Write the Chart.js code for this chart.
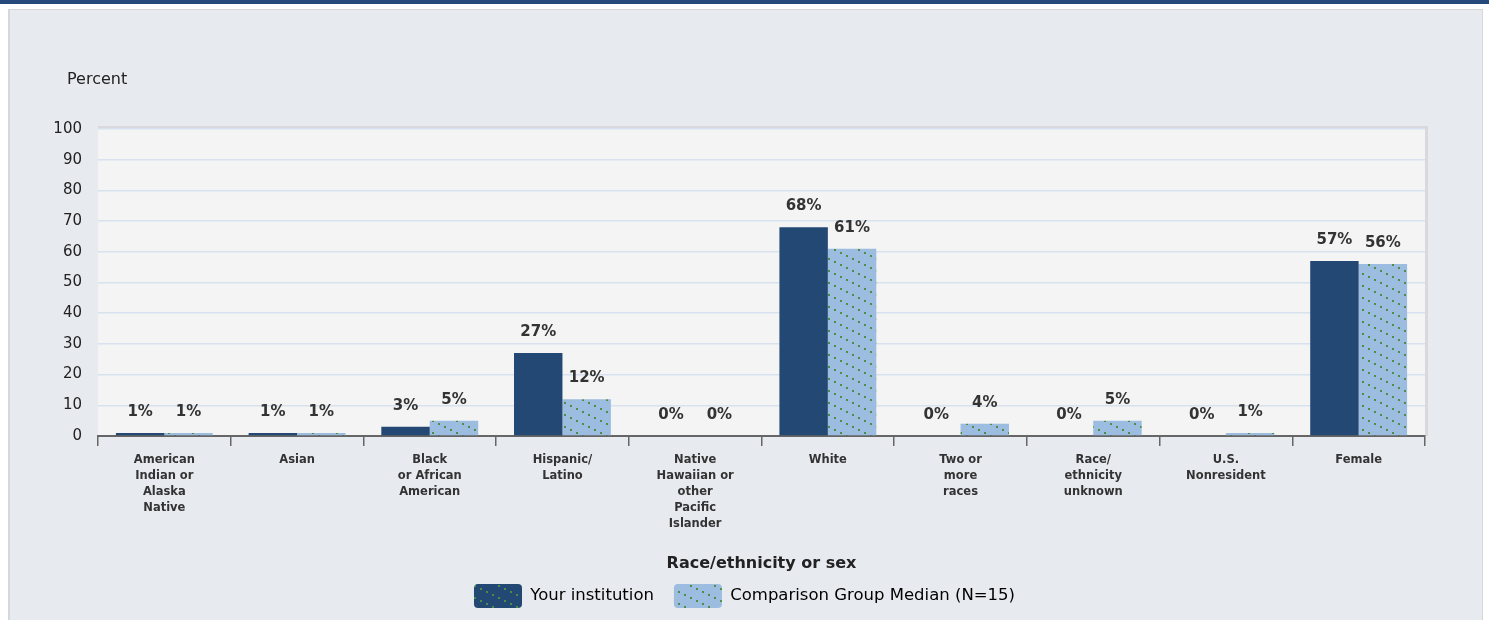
<!DOCTYPE html>
<html>
<head>
<meta charset="utf-8">
<script src="https://cdn.jsdelivr.net/npm/chart.js@4.4.1/dist/chart.umd.min.js"></script>
<style>
  html, body { margin: 0; padding: 0; background: #fff; }
  #wrap { width: 1489px; height: 620px; position: relative; }
</style>
</head>
<body>
<div id="wrap"><canvas id="chart" width="1489" height="620"></canvas></div>
<script>
const categories = [
  ['American', 'Indian or', 'Alaska', 'Native'],
  ['Asian'],
  ['Black', 'or African', 'American'],
  ['Hispanic/', 'Latino'],
  ['Native', 'Hawaiian or', 'other', 'Pacific', 'Islander'],
  ['White'],
  ['Two or', 'more', 'races'],
  ['Race/', 'ethnicity', 'unknown'],
  ['U.S.', 'Nonresident'],
  ['Female']
]
const yourInstitution = [1, 1, 3, 27, 0, 68, 0, 0, 0, 57]
const comparisonMedian = [1, 1, 5, 12, 0, 61, 4, 5, 1, 56]
const seriesNames = ['Your institution', 'Comparison Group Median (N=15)']
const yTicks = [0, 10, 20, 30, 40, 50, 60, 70, 80, 90, 100]

const DARK = '#224873'
const LIGHT = '#9dbde0'
const FONT = '"DejaVu Sans", Verdana, sans-serif'

// diagonal dotted green pattern, like the original
function makePattern(base) {
    const c = document.createElement('canvas')
    c.width = 24
    c.height = 12
    const g = c.getContext('2d')
    g.fillStyle = base
    g.fillRect(0, 0, 24, 12)
    g.fillStyle = '#4a8f48'
    for (let x = 0; x < 24; x += 6) {
        g.fillRect(x, x / 2, 2, 2)
    }
    return g.createPattern(c, 'repeat')
}
const ctx = document.getElementById('chart').getContext('2d')
const lightPattern = makePattern(LIGHT)
const darkPattern = makePattern(DARK)

// page background, panel and plot-area box
const backdrop = {
    id: 'backdrop',
    afterLayout(chart) {
        // centre the legend on the whole page, not on the padded area
        chart.legend.left += 32
        chart.legend.right += 32
    },
    beforeDraw(chart) {
        const c = chart.ctx
        const a = chart.chartArea
        c.save()
        c.fillStyle = '#ffffff'
        c.fillRect(0, 0, chart.width, chart.height)
        c.fillStyle = '#24497a'
        c.fillRect(0, 0, chart.width, 4)
        c.fillStyle = '#e7eaee'
        c.fillRect(8, 9, 1475, 611)
        c.fillStyle = '#d6d7db'
        c.fillRect(8, 9, 2, 611)
        c.fillRect(8, 9, 1475, 1)
        c.fillRect(1482, 9, 1, 611)
        // plot area with shadow at top/right
        c.fillStyle = '#d9d9dd'
        c.fillRect(a.left, a.top - 3, a.right - a.left + 3, a.bottom - a.top + 3)
        c.fillStyle = '#f4f4f4'
        c.fillRect(a.left, a.top, a.right - a.left, a.bottom - a.top)
        // "Percent" heading
        c.fillStyle = '#222'
        c.font = '16px ' + FONT
        c.textBaseline = 'middle'
        c.fillText('Percent', 67, 80)
        c.restore()
    }
}

// percent labels above each bar
const valueLabels = {
    id: 'valueLabels',
    afterDatasetsDraw(chart) {
        const c = chart.ctx
        c.save()
        c.font = 'bold 15px ' + FONT
        c.fillStyle = '#333'
        c.textAlign = 'center'
        c.textBaseline = 'middle'
        chart.data.datasets.forEach((ds, i) => {
            chart.getDatasetMeta(i).data.forEach((bar, j) => {
                c.fillText(ds.data[j] + '%', bar.x, bar.y - 21)
            })
        })
        c.restore()
    }
}

new Chart(ctx, {
    type: 'bar',
    data: {
        labels: categories,
        datasets: [{
            label: seriesNames[0],
            data: yourInstitution,
            backgroundColor: DARK,
            categoryPercentage: 0.73,
            barPercentage: 1
        }, {
            label: seriesNames[1],
            data: comparisonMedian,
            backgroundColor: lightPattern,
            categoryPercentage: 0.73,
            barPercentage: 1
        }]
    },
    options: {
        responsive: false,
        animation: false,
        layout: { padding: { left: 0, right: 64, top: 129, bottom: 2 } },
        scales: {
            x: {
                grid: { drawOnChartArea: false, tickLength: 10, color: '#666', lineWidth: 1.5 },
                border: { color: '#666', width: 2 },
                ticks: {
                    color: '#333',
                    font: { family: FONT, size: 11.5, weight: 'bold', lineHeight: 1.39 },
                    padding: 6,
                    maxRotation: 0,
                    autoSkip: false
                },
                title: {
                    display: true,
                    text: 'Race/ethnicity or sex',
                    color: '#222',
                    font: { family: FONT, size: 16, weight: 'bold' },
                    padding: { top: 0, bottom: -9 }
                },
                afterFit(scale) { scale.height = 128 }
            },
            y: {
                min: 0,
                max: 100,
                afterBuildTicks(scale) { scale.ticks = yTicks.map(v => ({ value: v })) },
                grid: { color: '#d8e2ef', lineWidth: 1.5, tickLength: 0 },
                border: { display: false },
                ticks: {
                    color: '#222',
                    font: { family: FONT, size: 15 },
                    padding: 16
                },
                afterFit(scale) { scale.width = 98 }
            }
        },
        plugins: {
            legend: {
                position: 'bottom',
                labels: {
                    boxWidth: 48,
                    boxHeight: 24,
                    padding: 20,
                    useBorderRadius: true,
                    borderRadius: 4,
                    color: '#222',
                    font: { family: FONT, size: 16.5 },
                    generateLabels() {
                        return [
                            { text: seriesNames[0], fillStyle: darkPattern, strokeStyle: DARK, lineWidth: 0, borderRadius: 4, datasetIndex: 0 },
                            { text: seriesNames[1], fillStyle: lightPattern, strokeStyle: LIGHT, lineWidth: 0, borderRadius: 4, datasetIndex: 1 }
                        ]
                    }
                }
            },
            tooltip: { enabled: false }
        }
    },
    plugins: [backdrop, valueLabels]
})
</script>
</body>
</html>
